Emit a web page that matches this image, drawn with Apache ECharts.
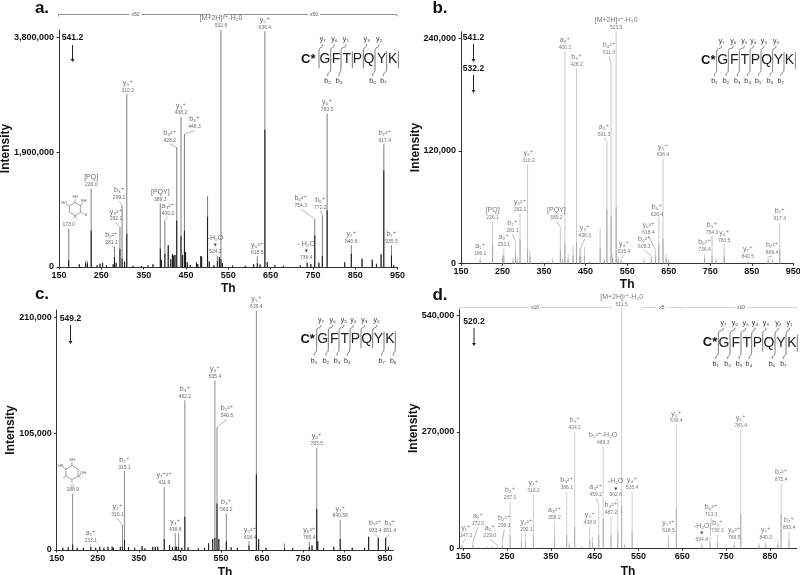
<!DOCTYPE html>
<html><head><meta charset="utf-8">
<style>html,body{margin:0;padding:0;background:#fff}#c{width:800px;height:575px}</style>
<script src="https://cdn.jsdelivr.net/npm/echarts@6/dist/echarts.min.js"></script>
</head><body><div id="c"></div>
<script>
// ---------- peak data: m/z, displayed (scaled) intensity, unscaled intensity ----------
const a_mz =   [173,198,213,217,226,240,247,253,262,278,281.1,285,294,299.1,305,310.2,325,345,360,372,389.3,392,400.2,408,414,418,421,424,428.2,438.2,442,446.3,449,453,460,475,478,485,487,501,505,516,524.2,529,532.6,536,560,590,610,618.5,625,636.4,642,660,680,720,736.4,745,754.3,764,772.2,783.5,825,840.6,866,890,900,911,917.4,935.5,941];
const a_int =  [635000,45000,100000,105000,1296000,30000,55000,66000,25000,44000,330000,70000,660000,1020000,90000,2856000,20000,15000,25000,44000,1050000,120000,770000,360000,130000,210000,190000,200000,1980000,2480000,200000,2200000,250000,80000,33000,80000,50000,180000,170000,1170000,90000,30000,176000,160000,3920000,60000,25000,20000,44000,176000,40000,3900000,83000,30000,20000,25000,72000,50000,800000,70000,855000,2540000,80000,358000,138000,120000,55000,210000,2030000,358000,30000];
const a_base = [110000,45000,60000,60000,600000,30000,55000,66000,25000,44000,165000,70000,300000,140000,90000,550000,20000,15000,25000,44000,300000,120000,220000,360000,130000,210000,190000,200000,770000,507000,200000,600000,250000,80000,33000,80000,50000,180000,170000,830000,90000,30000,100000,160000,130000,60000,25000,20000,44000,60000,40000,2270000,83000,30000,20000,25000,72000,50000,520000,70000,176000,940000,80000,220000,138000,120000,55000,210000,1600000,190000,30000];
const a_annMz  = [173,226,281.1,294,299.1,310.2,389.3,400.2,428.2,438.2,446.3,524.2,532.6,618.5,636.4,736.4,754.3,772.2,783.5,840.6,917.4,935.5];
const a_annIon = ['','[PQ]','b₂²⁺','y₃²⁺','b₃⁺','y₃⁺','[PQY]','a₃²⁺','b₃²⁺','y₃⁺','b₃⁺','-H₂O','[M+2H]²⁺-H₂0','y₅²⁺','y₅⁺','- H₂O','b₆²⁺','b₆⁺','y₆⁺','y₇⁺','b₇²⁺','b₇⁺'];
const a_annVal = ['173.0','226.0','281.1','292.1','299.1','310.2','389.3','400.2','428.2','438.2','446.3','524.2','532.6','618.5','636.4','736.4','754.3','772.2','783.5','840.6','917.4','935.5'];

const b_mz =   [196.1,226.1,250,253.1,275,281.1,285,292.1,310.2,316,345,360,370,389.2,395,400.2,408,420,428.2,436,438.3,447,460,485,495,501.3,511.3,515,523.5,528,535.4,590,608.3,618.4,626.4,636.4,644,650,736.4,754.3,764,783.5,840.5,889.4,900,917.4];
const b_int =  [6000,44000,9000,16000,6000,23000,6000,53000,105000,14000,3000,3000,5000,39000,5000,226000,9000,18000,208000,16000,17000,18000,3000,37000,5000,130000,213000,10000,247000,8000,5000,5000,8000,14000,48000,112000,10000,4000,10000,18000,5000,18000,3000,7000,4000,43000];
const b_base = [3000,20000,5000,8000,3000,10000,3000,25000,15000,7000,1500,1500,2500,15000,2500,20000,4000,8000,22000,8000,7000,8000,1500,16000,2500,57000,50000,5000,60000,4000,2500,2500,4000,7000,20000,26000,5000,2000,5000,8000,2500,8000,1500,3000,2000,15000];
const b_annMz  = [196.1,226.1,253.1,281.1,292.1,310.2,389.2,400.2,428.2,438.3,501.3,511.3,523.5,535.4,608.3,618.4,626.4,636.4,736.4,754.3,783.5,840.5,889.4,917.4];
const b_annIon = ['a₁⁺','[PQ]','a₂⁺','b₂⁺','y₂²⁺','y₂⁺','[PQY]','a₃⁺','b₃⁺','y₃⁺','a₅⁺','b₄²⁺','[M+2H]²⁺-H₂0','y₄⁺','b₆²⁺','y₆²⁺','b₆⁺','y₅⁺','b₆²⁺','b₅⁺','y₆⁺','y₇⁺','b₇²⁺','b₇⁺'];
const b_annVal = ['196.1','226.1','253.1','281.1','292.1','310.2','389.2','400.2','428.2','438.3','501.3','511.3','523.5','535.4','608.3','618.4','626.4','636.4','736.4','754.3','783.5','840.5','889.4','917.4'];

const c_mz =   [165,178,188.9,200,215,233.1,245,255,265,275,285,288,305,310.1,315.1,325,340,358,365,384,390,396,411.9,425,432,438.8,442,447,455,462.2,470,495,510,520,530,535.4,540.5,545,563.2,575,590,618.4,636.4,642,660,705,725,765.4,772,783.5,786,800,825,840.6,870,900,910,933.4,951.4,958];
const c_int =  [2000,2500,51000,2000,2000,3000,2000,3000,2000,3000,3000,2000,3000,22600,71000,2500,2000,3500,1500,3000,3000,3000,57000,4500,2500,15000,3000,15000,2000,135000,2500,1500,2000,6000,10000,153000,111000,10000,33000,2500,2000,8000,216000,10000,2000,6000,1500,7500,4000,92000,8000,1500,3000,27000,2000,2000,12000,11000,11000,3000];
const c_base = [2000,2500,5000,2000,2000,3000,2000,3000,2000,3000,3000,2000,3000,3000,9000,2500,2000,3500,1500,3000,3000,3000,10000,4500,2500,3000,3000,3000,2000,30000,2500,1500,2000,6000,10000,11000,42000,10000,8000,2500,2000,4000,68000,10000,2000,1500,1500,3000,4000,37000,8000,1500,3000,10000,2000,2000,12000,11000,11000,3000];
const c_annMz  = [188.9,233.1,310.1,315.1,411.9,438.8,462.2,535.4,540.5,563.2,618.4,636.4,765.4,783.5,840.6,933.4,951.4];
const c_annIon = ['','a₁⁺','y₂⁺','b₂⁺','y₇⁺²⁺','y₃⁺','b₃⁺','y₄⁺','b₅²⁺','b₃⁺','y₅²⁺','y₅⁺','y₆²⁺','y₆⁺','y₇⁺','b₇²⁺','b₈⁺'];
const c_annVal = ['188.9','233.1','310.1','315.1','411.9','438.8','462.2','535.4','540.5','563.2','618.4','636.4','765.4','783.5','840.58','933.4','951.4'];

const d_mz =   [147.2,172,205,215,229,239.1,257,283,292.1,310.2,330,358.2,375,386.1,392,404.2,420,438.9,445,459.2,469.3,487.2,502.6,511.5,518,535.4,618.5,636.4,694.4,713.3,730.3,768.5,783.4,825,840.5,868,875.4,893.4];
const d_int =  [12000,15000,5000,5000,6000,15000,108000,35000,35000,125000,4000,62000,5000,132000,15000,270000,6000,50000,27000,104000,236000,73000,112000,557000,12000,132000,31000,286000,12000,27000,31000,15000,275000,12000,15000,19000,151000,39000];
const d_base = [6000,7000,2500,2500,3000,7000,30000,15000,15000,30000,2000,25000,2500,30000,8000,50000,3000,20000,13000,30000,70000,30000,40000,100000,6000,40000,14000,93000,6000,13000,15000,7000,80000,6000,7000,9000,80000,18000];
const d_annMz  = [147.2,172,229,239.1,257,292.1,310.2,358.2,386.1,404.2,438.9,459.2,469.3,487.2,502.6,511.5,535.4,618.5,636.4,694.4,713.3,730.3,768.5,783.4,840.5,875.4,893.4];
const d_annIon = ['y₁⁺','a₁⁺','a₂⁺','b₂²⁺','b₂⁺','y₂²⁺','y₂⁺','a₃²⁺','b₃²⁺','b₃⁺','y₃⁺','a₄²⁺','b₅²⁺-H₂O','b₄²⁺','-H₂O','[M+2H]²⁺-H₂0','y₄⁺','y₅²⁺','y₅⁺','-H₂O','b₆²⁺','b₅⁺','y₆²⁺','y₆⁺','y₇⁺','b₇²⁺','b₇⁺'];
const d_annVal = ['147.2','172.0','229.0','239.1','257.0','292.1','310.2','358.2','386.1','404.2','438.9','459.2','469.3','487.2','502.6','511.5','535.4','618.5','636.4','694.4','713.3','730.3','768.5','783.4','840.5','875.4','893.4'];

const xTicksABC = [150,250,350,450,550,650,750,850,950];
const xTicksD = [150,250,350,450,550,650,750,850];
const a_yTicks = [0,1900000,3800000];
const b_yTicks = [0,120000,240000];
const c_yTicks = [0,105000,210000];
const d_yTicks = [0,270000,540000];
const aminoAcids = ['G','F','T','P','Q','Y','K'];

// ---------- layout only (label offsets in px, panel geometry, colours) ----------
const a_off = [[0,0],[0,0],[-3,0],[-4,-4],[-3,-4],[1,0],[0,0],[3,-3],[-7,-3],[0,0],[10,-3],[-2,-1],[0,0],[0,0],[0,0],[-1,-1],[-14,-9],[-2,-4],[0,0],[0,0],[1,0],[0,0]];
const b_off = [[0,0],[0,0],[0,0],[-3,-7],[0,0],[1,0],[-4,-5],[0,0],[0,0],[4,-8],[-3,-3],[-2,-7],[0,0],[3,-3],[-7,-5],[-7,-14],[-2,0],[0,0],[0,0],[0,-10],[0,-2],[0,0],[4,0],[0,0]];
const c_off = [[0,0],[0,-2],[-5,-6],[0,0],[0,0],[0,0],[0,0],[0,0],[10,-7],[0,0],[1,0],[0,0],[0,0],[0,0],[0,0],[-3,-3],[4,-3]];
const d_off = [[4,-4],[5,-14],[-8,-6],[2,-12],[0,0],[1,0],[0,0],[0,0],[0,0],[0,0],[0,0],[-3,-5],[0,0],[0,0],[-2,-1],[0,0],[0,0],[0,0],[0,0],[0,0],[1,-18],[0,0],[0,0],[0,0],[0,0],[0,0],[0,0]];

const panels = [
 {mz:a_mz,int:a_int,base:a_base,annMz:a_annMz,annIon:a_annIon,annVal:a_annVal,off:a_off,ticks:xTicksABC,yTicks:a_yTicks,
  grid:{left:59,top:30,width:338.6,height:237},xMin:150,xMax:950,yMax:3921000,gray:'#7d7d7d',dark:'#151515',gap:47,thGap:15.5,txt:'#444'},
 {mz:b_mz,int:b_int,base:b_base,annMz:b_annMz,annIon:b_annIon,annVal:b_annVal,off:b_off,ticks:xTicksABC,yTicks:b_yTicks,
  grid:{left:461,top:31.7,width:332.3,height:231.6},xMin:150,xMax:950,yMax:247000,gray:'#c8c8c8',dark:'#a8a8a8',gap:39,thGap:15.5,txt:'#555'},
 {mz:c_mz,int:c_int,base:c_base,annMz:c_annMz,annIon:c_annIon,annVal:c_annVal,off:c_off,ticks:xTicksABC,yTicks:c_yTicks,
  grid:{left:56.7,top:310,width:336.6,height:240},xMin:150,xMax:970,yMax:216500,gray:'#8a8a8a',dark:'#151515',gap:40,thGap:16.5,txt:'#444'},
 {mz:d_mz,int:d_int,base:d_base,annMz:d_annMz,annIon:d_annIon,annVal:d_annVal,off:d_off,ticks:xTicksD,yTicks:d_yTicks,
  grid:{left:459.3,top:308.3,width:337.4,height:240},xMin:141,xMax:911,yMax:557000,gray:'#d2d2d2',dark:'#b0b0b0',gap:40,thGap:17.5,txt:'#555'}
];

const FONT = '"Liberation Sans", Arial, sans-serif';
const AXC = '#333';
const grids=[],xAxes=[],yAxes=[],series=[];
panels.forEach((p,i)=>{
  grids.push(Object.assign({containLabel:false,outerBoundsMode:'none'},p.grid));
  xAxes.push({type:'value',gridIndex:i,min:p.xMin,max:p.xMax,
    axisLine:{show:true,onZero:false,lineStyle:{color:AXC,width:1}},
    axisTick:{show:true,length:2.5,customValues:p.ticks,lineStyle:{color:AXC}},
    axisLabel:{customValues:p.ticks,color:'#111',fontFamily:FONT,fontWeight:'bold',fontSize:9,margin:4,showMinLabel:true,showMaxLabel:true},
    splitLine:{show:false},name:'Th',nameLocation:'middle',nameGap:p.thGap,
    nameTextStyle:{color:'#111',fontFamily:FONT,fontWeight:'bold',fontSize:12}});
  yAxes.push({type:'value',gridIndex:i,min:0,max:p.yMax,
    axisLine:{show:true,onZero:false,lineStyle:{color:AXC,width:1}},
    axisTick:{show:true,length:2.5,customValues:p.yTicks,lineStyle:{color:AXC}},
    axisLabel:{customValues:p.yTicks,color:'#111',fontFamily:FONT,fontWeight:'bold',fontSize:9,margin:5,
      formatter:v=>Number(v).toLocaleString('en-US')},
    splitLine:{show:false},name:'Intensity',nameLocation:'middle',nameGap:p.gap,nameMoveOverlap:false,
    nameTextStyle:{color:'#111',fontFamily:FONT,fontWeight:'bold',fontSize:12}});
  const barCommon={type:'bar',xAxisIndex:i,yAxisIndex:i,barWidth:1,barGap:'-100%',silent:true,animation:false,large:false};
  series.push(Object.assign({},barCommon,{name:'scaled'+i,itemStyle:{color:p.gray},data:p.mz.map((m,k)=>[m,p.int[k]])}));
  series.push(Object.assign({},barCommon,{name:'base'+i,itemStyle:{color:p.dark},data:p.mz.map((m,k)=>[m,p.base[k]])}));
  const nearest=m=>{let b=0;p.mz.forEach((v,k)=>{if(Math.abs(v-m)<Math.abs(p.mz[b]-m))b=k;});return p.int[b];};
  series.push({type:'scatter',xAxisIndex:i,yAxisIndex:i,symbolSize:1,itemStyle:{color:'rgba(0,0,0,0)'},silent:true,animation:false,z:5,
    data:p.annMz.map((m,k)=>({value:[m,nearest(m)],ion:p.annIon[k],val:p.annVal[k],idx:k})),
    label:{show:true,position:'top',distance:0,lineHeight:7,
      formatter:q=>{const ion=q.data.ion,v=q.data.val;
        const loss=/^-\s?H/.test(ion);
        return (ion?'{i|'+ion+'}\n':'')+(loss?'{a|▼}\n':'')+'{v|'+v+'}';},
      rich:{i:{fontFamily:'"Liberation Sans","DejaVu Sans",sans-serif',fontSize:7,color:p.txt,lineHeight:8,align:'center'},
            a:{fontFamily:'"DejaVu Sans",sans-serif',fontSize:4,color:'#111',lineHeight:6,align:'center'},
            v:{fontFamily:FONT,fontSize:5,color:p.txt,lineHeight:7,align:'center'}}},
    labelLine:{show:true,lineStyle:{color:'#888',width:0.6},length2:0,smooth:false},
    labelLayout:q=>{const o=p.off[q.dataIndex]||[0,0];return {dx:o[0],dy:o[1],hideOverlap:false};}
  });
});

// ---------- annotation graphics ----------
const g=[];
const txt=(x,y,s,size,weight,color,align)=>g.push({type:'text',x,y,silent:true,z:10,style:{text:s,fontFamily:'"Liberation Sans","DejaVu Sans",sans-serif',fontSize:size,fontWeight:weight||'normal',fill:color||'#111',align:align||'center',verticalAlign:'middle'}});
const seg=(x1,y1,x2,y2,c,w)=>g.push({type:'line',silent:true,z:10,shape:{x1,y1,x2,y2},style:{stroke:c||'#333',lineWidth:w||0.8}});
const arrow=(x,y1,y2)=>{seg(x,y1,x,y2-2,'#222',1);g.push({type:'polygon',silent:true,z:10,shape:{points:[[x-2,y2-3],[x+2,y2-3],[x,y2]]},style:{fill:'#222'}});};
[['a.',42,8],['b.',440,8],['c.',42,294],['d.',440,295]].forEach(t=>txt(t[1],t[2],t[0],17,'bold','#111'));
txt(72.5,38,'541.2',8.5,'bold');arrow(72.5,45,62);
txt(473.5,38,'541.2',8.5,'bold');arrow(473.5,44,62);txt(473.5,68.5,'532.2',8.5,'bold');arrow(473.5,75,93);
txt(70.5,318.5,'549.2',8.5,'bold');arrow(70.5,325,344);
txt(474,322,'520.2',8.5,'bold');arrow(474,328,346);

// fragmentation schemes
function scheme(x0,y0,cx,letters,seps,yc,tops,topY,bots,botY,clr){
  txt(x0+cx/3,y0+yc/3,'C*',13,'bold','#111');
  aminoAcids.forEach((a,i)=>txt(x0+letters[i]/3,y0+yc/3,a,14,'normal','#222'));
  const Y=y0+yc/3;
  seps.forEach(s=>seg(x0+s/3,Y-8,x0+s/3,Y+9,clr,0.8));
  tops.forEach(t=>{const sx=x0+seps[t[0]]/3,lx=x0+t[2]/3,ly=y0+topY/3;
    txt(lx,ly,t[1],7,'normal','#333');
    g.push({type:'bezierCurve',silent:true,z:10,shape:{x1:sx,y1:Y-8,x2:lx,y2:ly+5,cpx1:sx,cpy1:Y-14,cpx2:lx,cpy2:ly+10},style:{stroke:clr,lineWidth:0.8,fill:'none'}});});
  bots.forEach(t=>{const sx=x0+seps[t[0]]/3,lx=x0+t[2]/3,ly=y0+botY/3;
    txt(lx,ly,t[1],7,'normal','#333');
    g.push({type:'bezierCurve',silent:true,z:10,shape:{x1:sx,y1:Y+9,x2:lx,y2:ly-5,cpx1:sx,cpy1:Y+15,cpx2:lx,cpy2:ly-10},style:{stroke:clr,lineWidth:0.8,fill:'none'}});});
}
scheme(0,0,925,[975,1008,1040,1072,1107,1145,1178],[957,992,1023,1057,1090,1125,1160,1195],178,
  [[0,'y₇',968],[1,'y₆',1003],[2,'y₅',1038],[4,'y₃',1100],[5,'y₂',1137]],118,[[1,'b₂',983],[2,'b₃',1017],[5,'b₆',1118],[6,'b₇',1150]],243,'#555');
scheme(400,0,925,[968,1003,1034,1066,1100,1135,1168],[950,985,1018,1050,1083,1118,1152,1186],180,
  [[0,'y₇',965],[1,'y₆',1000],[2,'y₅',1033],[3,'y₄',1060],[4,'y₃',1092],[5,'y₂',1128]],122,
  [[0,'b₁',943],[1,'b₂',978],[2,'b₃',1012],[3,'b₄',1043],[4,'b₅',1075],[5,'b₆',1110],[6,'b₇',1142]],243,'#666');
scheme(0,285,923,[968,1003,1034,1066,1100,1135,1170],[950,985,1017,1050,1083,1118,1152,1186],163,
  [[0,'y₇',963],[1,'y₆',998],[2,'y₅',1032],[3,'y₄',1060],[4,'y₃',1093],[5,'y₂',1130]],105,
  [[0,'b₁',942],[1,'b₂',978],[2,'b₃',1011],[3,'b₄',1042],[6,'b₇',1145],[7,'b₈',1180]],227,'#555');
scheme(400,285,930,[972,1007,1040,1072,1107,1143,1176],[955,990,1023,1055,1088,1125,1158,1192],173,
  [[0,'y₇',970],[1,'y₆',1005],[2,'y₅',1037],[3,'y₄',1065],[4,'y₃',1098],[5,'y₂',1135],[6,'y₁',1168]],113,
  [[0,'b₁',947],[1,'b₂',983],[2,'b₃',1017],[3,'b₄',1047],[5,'b₆',1116],[6,'b₇',1150]],237,'#555');

// scale brackets
function bracket(x1,x2,y,label,lx,c){
  seg(x1,y,x2,y,c,0.8);seg(x1,y,x1,y+2,c,0.8);seg(x2,y,x2,y+2,c,0.8);
  g.push({type:'rect',silent:true,z:11,shape:{x:lx-6,y:y-3,width:12,height:6},style:{fill:'#fff'}});
  g.push({type:'text',x:lx,y:y,silent:true,z:12,style:{text:label,fontSize:5,fontFamily:FONT,fill:'#555',align:'center',verticalAlign:'middle'}});
}
bracket(58.5,210,14.5,'x50',135.5,'#777');
bracket(224,397,14.5,'x50',314,'#777');
bracket(459.5,611,307.5,'x10',535,'#ccc');
bracket(642,681.5,307.5,'x5',662,'#ccc');
bracket(681.5,796.5,307.5,'x10',741,'#ccc');

// ring structures
function ring(cx,cy,r,subs,c){
  const pts=[];for(let i=0;i<6;i++){const t=Math.PI/6+i*Math.PI/3;pts.push([cx+r*Math.cos(t),cy+r*Math.sin(t)]);}
  g.push({type:'polygon',silent:true,z:10,shape:{points:pts},style:{fill:'none',stroke:c,lineWidth:0.6}});
  subs.forEach(s=>{const p=pts[s[0]],ang=s[1]*Math.PI/180,e=[p[0]+3.5*Math.cos(ang),p[1]+3.5*Math.sin(ang)];
    seg(p[0],p[1],e[0],e[1],c,0.6);
    if(s[2])txt(e[0]+2.5*Math.cos(ang),e[1]+2.5*Math.sin(ang),s[2],4,'normal','#555');});
}
ring(75,209,6.5,[[0,30,'S'],[5,-60,'SH'],[4,-90,'SH'],[3,210,'HO'],[1,60,''],[1,120,'']],'#666');
ring(72,472.5,7,[[0,-30,'OH'],[4,-90,'SH'],[3,210,'HS'],[1,90,'O'],[2,150,''],[0,40,'']],'#666');

const chart=echarts.init(document.getElementById('c'),null,{renderer:'canvas',width:800,height:575});
chart.setOption({animation:false,backgroundColor:'#fff',grid:grids,xAxis:xAxes,yAxis:yAxes,series,graphic:{elements:g},textStyle:{fontFamily:FONT}});
</script></body></html>
